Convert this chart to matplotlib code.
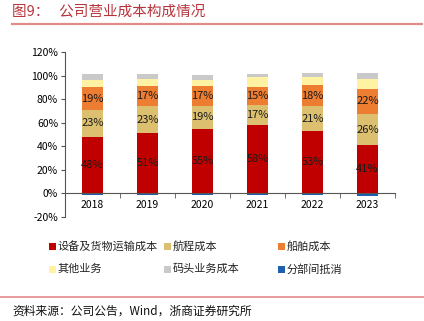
import numpy as np
import matplotlib.pyplot as plt
from matplotlib.patches import Rectangle
from matplotlib.lines import Line2D

plt.rcParams['font.family'] = ['Noto Sans CJK SC', 'DejaVu Sans']

years = ['2018', '2019', '2020', '2021', '2022', '2023']
series_names = ['设备及货物运输成本', '航程成本', '船舶成本',
                '其他业务', '码头业务成本', '分部间抵消']
transport = [48, 51, 55, 58, 53, 41]
voyage = [23, 23, 19, 17, 21, 26]
vessel = [19, 17, 17, 15, 18, 22]
other = [6.5, 6.5, 5.5, 8.5, 7, 8]
terminal = [5, 4, 4, 3, 3, 5]
elimination = [-1.5, -1.5, -1, -1, -1, -2]

colors = ['#C00000', '#DCC070', '#ED7D31', '#FFF3A3', '#C9C9C9', '#1F5FAF']

W, H = 424, 321
fig = plt.figure(figsize=(W / 100, H / 100), dpi=100)

# heading with rule underneath
fig.text(12 / W, 1 - 12 / H, '图9：   公司营业成本构成情况', fontsize=10.5,
         color='#B8343A', va='center', ha='left')
fig.add_artist(Line2D([12 / W, 422 / W], [1 - 23.5 / H, 1 - 23.5 / H],
                      color='#E38A8A', lw=1.6))

ax = fig.add_axes([65 / W, 1 - 217 / H, 330 / W, 165 / H])
x = np.arange(len(years))
bw = 0.38

positive = [transport, voyage, vessel, other, terminal]
bottom = np.zeros(len(years))
bars = []
for vals, c in zip(positive, colors[:5]):
    vals = np.array(vals, dtype=float) / 100
    b = ax.bar(x, vals, bw, bottom=bottom, color=c, zorder=2)
    bars.append((b, vals, bottom.copy()))
    bottom += vals
ax.bar(x, np.array(elimination) / 100, bw, color=colors[5], zorder=2)

# percentage labels on the three main components
for b, vals, btm in bars[:3]:
    for xi, v, b0 in zip(x, vals, btm):
        ax.text(xi, b0 + v / 2, f'{v * 100:.0f}%', ha='center', va='center',
                fontsize=8, color='#1a1a1a', zorder=3)

ax.set_xlim(-0.5, len(years) - 0.5)
ax.set_ylim(-0.2, 1.2)
ax.set_yticks(np.arange(-0.2, 1.21, 0.2))
ax.set_yticklabels([f'{v:.0f}%' for v in np.arange(-20, 121, 20)])
ax.set_xticks(x)
ax.set_xticklabels(years)
ax.set_xticks(np.arange(-0.5, len(years), 1), minor=True)
ax.tick_params(axis='x', which='major', length=0, pad=5, labelsize=7.5)
ax.tick_params(axis='x', which='minor', length=3.5, direction='out', color='#555555')
ax.tick_params(axis='y', length=3, direction='out', color='#555555', pad=2,
               labelsize=7.5)

for s in ['top', 'right']:
    ax.spines[s].set_visible(False)
ax.spines['bottom'].set_position(('data', 0))
ax.spines['bottom'].set_color('#555555')
ax.spines['left'].set_color('#555555')
ax.spines['bottom'].set_zorder(3)

# legend laid out in a fixed grid of two rows
legend_x = [52, 167, 281]
legend_y = [246, 269]
for i, (name, c) in enumerate(zip(series_names, colors)):
    px = legend_x[i % 3]
    py = legend_y[i // 3]
    fig.add_artist(Rectangle((px / W - 3.5 / W, 1 - (py + 3.5) / H), 7 / W, 7 / H,
                             transform=fig.transFigure, color=c, lw=0))
    fig.text((px + 6) / W, 1 - py / H, name, fontsize=8, va='center', ha='left',
             color='#222222')

# source note
fig.add_artist(Line2D([0, 1], [1 - 297 / H, 1 - 297 / H], color='#E38A8A', lw=1.2))
fig.text(12 / W, 1 - 311 / H, '资料来源：公司公告，Wind，浙商证券研究所', fontsize=8.5,
         va='center', ha='left', color='#111111')

fig.savefig('out.png', dpi=100)
